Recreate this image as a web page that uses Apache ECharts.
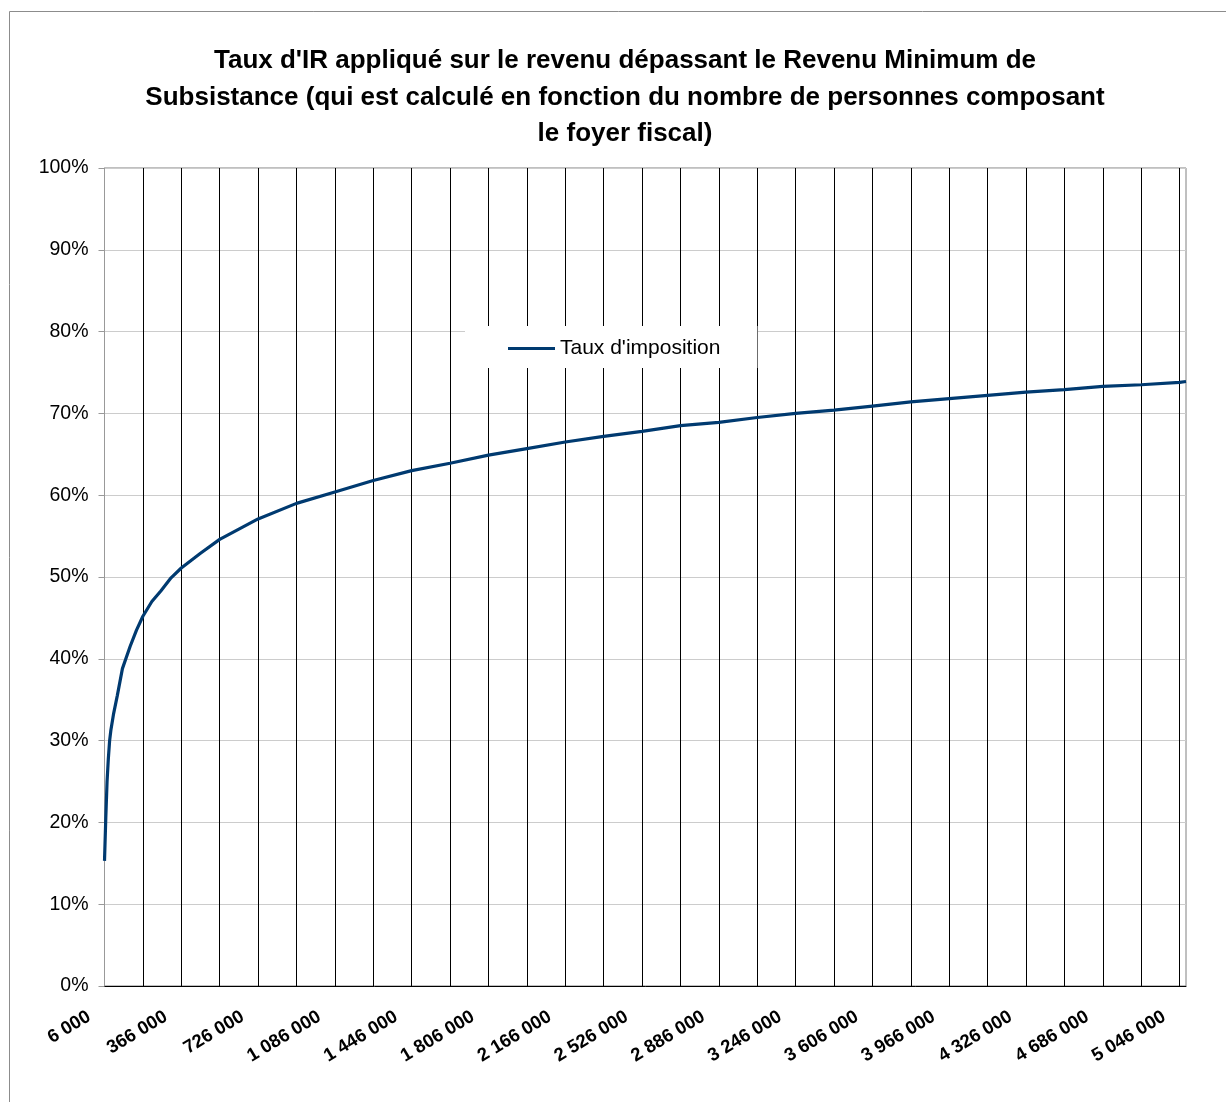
<!DOCTYPE html>
<html>
<head>
<meta charset="utf-8">
<title>Taux d'IR</title>
<script src="https://cdn.jsdelivr.net/npm/echarts@6/dist/echarts.min.js"></script>
<style>
  html, body { margin: 0; padding: 0; background: #fff; }
  #chart { width: 1226px; height: 1102px; }
</style>
</head>
<body>
<div id="chart"></div>
<script>
// Income axis: one category every 6 000, from 6 000 to 5 076 000
const firstIncome = 6000;
const incomeStep = 6000;
const categoryCount = 846;

// Tax rate (%) at selected incomes along the curve
const sampleIncome = [
  6000, 12000, 18000, 24000, 30000, 36000, 48000, 66000, 90000, 126000,
  156000, 186000, 228000, 270000, 318000, 366000, 456000, 546000, 726000, 906000,
  1086000, 1266000, 1446000, 1626000, 1806000, 1986000, 2166000, 2346000, 2526000, 2706000,
  2886000, 3066000, 3246000, 3426000, 3606000, 3786000, 3966000, 4146000, 4326000, 4506000,
  4686000, 4866000, 5046000, 5076000
];
const sampleRate = [
  15.3, 20.5, 25.0, 27.8, 30.0, 31.3, 33.2, 35.5, 38.8, 41.5,
  43.5, 45.2, 47.0, 48.3, 49.9, 51.1, 52.9, 54.6, 57.1, 59.0,
  60.4, 61.8, 63.0, 63.9, 64.9, 65.7, 66.5, 67.2, 67.8, 68.5,
  68.9, 69.5, 70.0, 70.4, 70.9, 71.4, 71.8, 72.2, 72.6, 72.9,
  73.3, 73.5, 73.8, 73.9
];

const seriesName = "Taux d'imposition";
const titleText = "Taux d'IR appliqué sur le revenu dépassant le Revenu Minimum de\nSubsistance (qui est calculé en fonction du nombre de personnes composant\nle foyer fiscal)";

// Build the category list and place each sampled rate on its category
const categories = [];
for (let i = 0; i < categoryCount; i++) categories.push(String(firstIncome + i * incomeStep));
const rateData = new Array(categoryCount).fill(null);
sampleIncome.forEach((inc, k) => {
  rateData[Math.round((inc - firstIncome) / incomeStep)] = sampleRate[k];
});

function spaced(v) {
  return String(v).replace(/\B(?=(\d{3})+(?!\d))/g, ' ');
}

const FONT = "'Liberation Sans', Arial, sans-serif";
const chart = echarts.init(document.getElementById('chart'), null, { renderer: 'canvas' });

chart.setOption({
  backgroundColor: '#ffffff',
  animation: false,
  graphic: [
    {
      type: 'rect', silent: true, z: -1,
      shape: { x: 9.5, y: 11.5, width: 1240, height: 1120 },
      style: { fill: 'none', stroke: '#8c8c8c', lineWidth: 1 }
    },
    {
      type: 'text', x: 625, y: 43,
      style: {
        text: titleText, fill: '#000', font: "bold 26px " + FONT,
        textAlign: 'center', textVerticalAlign: 'top', lineHeight: 36.5
      }
    }
  ],
  grid: {
    left: 104.5, right: 40, top: 168, bottom: 116,
    show: true, borderColor: '#808080', borderWidth: 1, backgroundColor: 'transparent'
  },
  legend: {
    data: [seriesName],
    left: 465, top: 326,
    backgroundColor: '#ffffff',
    padding: [12, 37, 9, 43],
    icon: 'rect', itemWidth: 47, itemHeight: 3, itemGap: 4,
    textStyle: { fontFamily: FONT, fontSize: 21, color: '#000' }
  },
  xAxis: {
    type: 'category',
    data: categories,
    boundaryGap: false,
    axisLine: { show: true, lineStyle: { color: '#000', width: 1 } },
    axisTick: { show: false },
    splitLine: { show: true, interval: 29, lineStyle: { color: '#000', width: 1 } },
    axisLabel: {
      interval: 59, rotate: 31, margin: 20,
      padding: [0, 18, 0, 0],
      fontFamily: FONT, fontSize: 18.5, fontWeight: 'bold', color: '#000',
      formatter: v => spaced(v)
    }
  },
  yAxis: {
    type: 'value',
    min: 0, max: 100, interval: 10,
    axisLine: { show: true, lineStyle: { color: '#999', width: 1 } },
    axisTick: { show: true, length: 6, lineStyle: { color: '#999' } },
    splitLine: { show: true, lineStyle: { color: '#cccccc', width: 1 } },
    axisLabel: {
      margin: 16, fontFamily: FONT, fontSize: 19.5, color: '#000',
      formatter: '{value}%'
    }
  },
  series: [{
    name: seriesName,
    type: 'line',
    data: rateData,
    connectNulls: true,
    showSymbol: false,
    symbol: 'none',
    smooth: false,
    lineStyle: { color: '#003a70', width: 3.2 },
    itemStyle: { color: '#003a70' }
  }]
});
</script>
</body>
</html>
